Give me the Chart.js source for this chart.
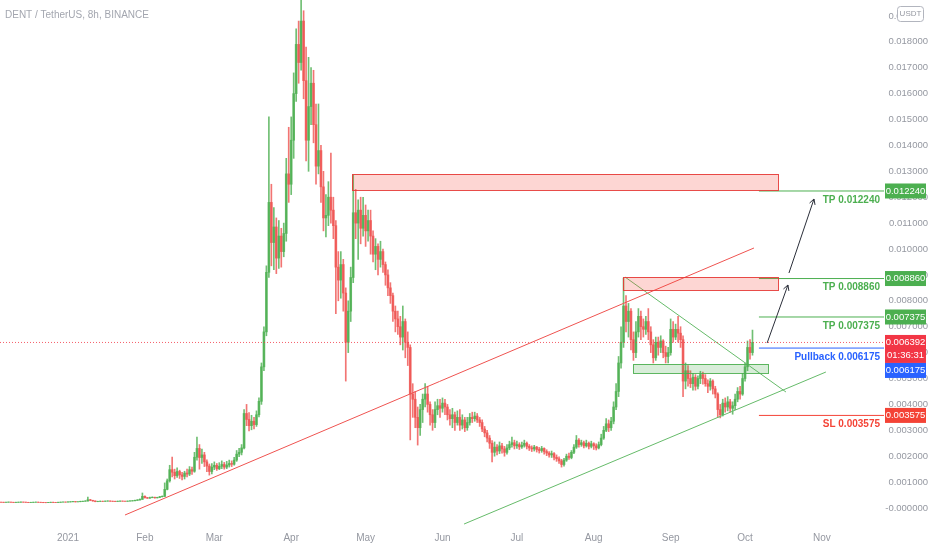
<!DOCTYPE html>
<html><head><meta charset="utf-8">
<script src="https://cdn.jsdelivr.net/npm/chart.js@4.4.0/dist/chart.umd.min.js"></script>
<style>html,body{margin:0;padding:0;background:#fff}#wrap{width:932px;height:550px}</style>
</head><body><div id="wrap"><canvas id="c" width="932" height="550"></canvas></div>
<script>
// ---- data (days counted from 1 Jan 2021; one candle per day) ----
const startDay = -27;
const firstOpen = 0.000226;
const closes = [
0.000222,0.000218,0.000224,0.000229,0.000221,0.000216,0.000219,0.000225,0.000230,0.000226,0.000219,0.000214,0.000217,0.000223,0.000227,0.000221,0.000218,0.000212,0.000209,0.000215,0.000221,0.000218,0.000214,0.000219,0.000226,0.000231,0.000228,
0.000235,0.000242,0.000251,0.000238,0.000244,0.000256,0.000262,0.000271,0.000318,0.000296,0.000272,0.000248,0.000255,0.000262,0.000258,0.000266,0.000271,0.000263,0.000259,0.000254,0.000262,0.000268,0.000264,0.000259,0.000266,0.000273,0.000281,
0.000295,0.000312,0.000334,0.000452,0.000398,0.000381,0.000402,0.000415,0.000392,0.000408,0.000437,0.000452,0.000721,
0.00105,0.00148,0.00138,0.00125,0.00141,0.00128,0.00122,0.00135,0.00131,0.00148,
0.00142,0.00196,0.00230,0.00195,0.00205,0.00178,0.00162,0.00141,0.00158,0.00165,
0.00152,0.00161,0.00168,0.00158,0.00166,0.00172,0.00169,0.00185,0.00208,0.00215,
0.00232,0.00365,0.00342,0.00318,0.00335,0.00322,0.00360,0.00412,0.00545,0.00680,
0.00910,0.01180,0.01025,0.01085,0.00965,0.01050,0.00990,0.01060,0.01290,0.01250,
0.01420,0.01600,0.01790,0.01720,0.01880,0.01650,0.01420,0.01550,0.01640,0.01480,
0.01320,0.01380,0.01240,0.01120,0.01130,0.01200,0.01150,0.01090,0.00930,0.00880,
0.00940,0.00830,0.00640,0.00760,0.00890,0.01140,0.01100,0.01150,0.01080,0.01130,
0.01070,0.01110,0.01050,0.00980,0.01010,0.00960,0.00990,0.00940,0.00900,0.00850,
0.00820,0.00760,0.00730,0.00700,0.00660,0.00720,0.00640,0.00620,0.00440,0.00420,
0.00350,0.00310,0.00380,0.00420,0.00440,0.00400,0.00360,0.00330,0.00380,0.00395,
0.00385,0.00405,0.00390,0.00360,0.00345,0.00360,0.00330,0.00350,0.00320,0.00340,
0.00310,0.00330,0.00350,0.00345,0.00355,0.00340,0.00330,0.00305,0.00290,0.00270,
0.00250,0.00215,0.00235,0.00220,0.00240,0.00228,0.00215,0.00232,0.00245,0.00252,
0.00240,0.00245,0.00236,0.00242,0.00250,0.00238,0.00232,0.00228,0.00235,0.00226,
0.00222,0.00230,0.00218,0.00212,0.00205,0.00210,0.00196,0.00190,0.00182,0.00168,
0.00185,0.00200,0.00195,0.00215,0.00235,0.00262,0.00245,0.00252,0.00240,0.00250,
0.00238,0.00248,0.00240,0.00232,0.00245,0.00270,0.00300,0.00325,0.00310,0.00335,
0.00390,0.00450,0.00560,0.00640,0.00780,0.00720,0.00760,0.00650,0.00600,0.00680,
0.00740,0.00700,0.00690,0.00720,0.00680,0.00630,0.00580,0.00640,0.00620,0.00645,
0.00600,0.00585,0.00600,0.00690,0.00660,0.00690,0.00675,0.00650,0.00490,0.00530,
0.00500,0.00480,0.00505,0.00470,0.00500,0.00515,0.00500,0.00480,0.00470,0.00490,
0.00460,0.00440,0.00380,0.00360,0.00405,0.00390,0.00410,0.00385,0.00395,0.00420,
0.00450,0.00440,0.00500,0.00545,0.00620,0.00600,0.006392];
const highs = [
0.000231,0.000228,0.000230,0.000236,0.000232,0.000225,0.000226,0.000233,0.000238,0.000234,0.000229,0.000222,0.000224,0.000230,0.000235,0.000230,0.000226,0.000221,0.000216,0.000222,0.000229,0.000227,0.000221,0.000226,0.000234,0.000240,0.000237,
0.000244,0.000251,0.000262,0.000255,0.000252,0.000265,0.000272,0.000285,0.000420,0.000335,0.000301,0.000278,0.000264,0.000273,0.000269,0.000275,0.000282,0.000276,0.000270,0.000264,0.000271,0.000278,0.000274,0.000268,0.000275,0.000284,0.000292,
0.000305,0.000325,0.000352,0.000580,0.000470,0.000412,0.000421,0.000432,0.000420,0.000418,0.000448,0.000470,0.000970,
0.00112,0.00165,0.00197,0.00150,0.00155,0.00146,0.00138,0.00142,0.00150,0.00160,
0.00158,0.00215,0.00274,0.00245,0.00228,0.00215,0.00186,0.00170,0.00172,0.00178,
0.00172,0.00175,0.00182,0.00176,0.00180,0.00185,0.00182,0.00196,0.00222,0.00230,
0.00245,0.00380,0.00400,0.00368,0.00358,0.00350,0.00375,0.00425,0.00560,0.00700,
0.00935,0.01510,0.01250,0.01160,0.01120,0.01110,0.01080,0.01100,0.01350,0.01470,
0.01510,0.01680,0.01850,0.01880,0.01990,0.01920,0.01780,0.01740,0.01700,0.01690,
0.01560,0.01560,0.01400,0.01300,0.01210,0.01260,0.01370,0.01200,0.01110,0.00990,
0.00990,0.00960,0.00850,0.00800,0.00930,0.01286,0.01230,0.01190,0.01200,0.01200,
0.01170,0.01150,0.01150,0.01070,0.01040,0.01020,0.01030,0.01000,0.00950,0.00920,
0.00870,0.00830,0.00780,0.00760,0.00740,0.00780,0.00730,0.00680,0.00630,0.00480,
0.00450,0.00390,0.00400,0.00440,0.00480,0.00470,0.00410,0.00380,0.00410,0.00420,
0.00420,0.00425,0.00420,0.00400,0.00380,0.00385,0.00370,0.00375,0.00380,0.00360,
0.00350,0.00350,0.00365,0.00370,0.00370,0.00365,0.00350,0.00340,0.00315,0.00300,
0.00280,0.00260,0.00255,0.00245,0.00255,0.00250,0.00238,0.00245,0.00258,0.00274,
0.00262,0.00258,0.00252,0.00255,0.00262,0.00255,0.00245,0.00240,0.00242,0.00238,
0.00234,0.00238,0.00232,0.00225,0.00218,0.00220,0.00214,0.00205,0.00198,0.00188,
0.00192,0.00208,0.00212,0.00222,0.00245,0.00280,0.00268,0.00262,0.00258,0.00262,
0.00255,0.00258,0.00252,0.00248,0.00255,0.00285,0.00315,0.00345,0.00340,0.00350,
0.00410,0.00480,0.00585,0.00700,0.00888,0.00820,0.00790,0.00770,0.00680,0.00720,
0.00770,0.00760,0.00730,0.00740,0.00770,0.00700,0.00650,0.00660,0.00660,0.00665,
0.00650,0.00625,0.00620,0.00730,0.00720,0.00710,0.00740,0.00700,0.00665,0.00560,
0.00550,0.00530,0.00520,0.00515,0.00510,0.00528,0.00525,0.00515,0.00495,0.00500,
0.00495,0.00470,0.00445,0.00400,0.00420,0.00425,0.00430,0.00420,0.00410,0.00440,
0.00465,0.00470,0.00520,0.00560,0.00645,0.00650,0.00687];
const lows = [
0.000214,0.000210,0.000213,0.000219,0.000212,0.000208,0.000210,0.000215,0.000220,0.000218,0.000211,0.000206,0.000208,0.000212,0.000218,0.000213,0.000210,0.000204,0.000201,0.000205,0.000211,0.000210,0.000206,0.000209,0.000214,0.000222,0.000219,
0.000224,0.000228,0.000236,0.000229,0.000232,0.000238,0.000249,0.000256,0.000265,0.000281,0.000262,0.000240,0.000242,0.000249,0.000247,0.000253,0.000260,0.000255,0.000250,0.000245,0.000250,0.000256,0.000255,0.000250,0.000254,0.000262,0.000268,
0.000276,0.000290,0.000305,0.000330,0.000380,0.000365,0.000374,0.000395,0.000381,0.000386,0.000400,0.000425,0.000440,
0.00070,0.00100,0.00120,0.00112,0.00118,0.00114,0.00108,0.00112,0.00120,0.00125,
0.00130,0.00138,0.00185,0.00150,0.00172,0.00160,0.00140,0.00127,0.00132,0.00148,
0.00145,0.00148,0.00152,0.00150,0.00152,0.00158,0.00160,0.00165,0.00180,0.00198,
0.00205,0.00228,0.00318,0.00298,0.00302,0.00305,0.00315,0.00352,0.00400,0.00530,
0.00665,0.00890,0.00935,0.00920,0.00905,0.00925,0.00930,0.00970,0.01030,0.01180,
0.01210,0.01350,0.01570,0.01640,0.01690,0.01580,0.01340,0.01300,0.01480,0.01410,
0.01250,0.01290,0.01180,0.01070,0.01047,0.01090,0.01100,0.01040,0.00750,0.00800,
0.00810,0.00760,0.00490,0.00600,0.00720,0.00870,0.01040,0.00960,0.01020,0.01050,
0.01010,0.01030,0.00980,0.00950,0.00920,0.00900,0.00930,0.00910,0.00860,0.00820,
0.00790,0.00720,0.00680,0.00670,0.00630,0.00610,0.00580,0.00550,0.00263,0.00350,
0.00310,0.00243,0.00280,0.00330,0.00390,0.00370,0.00320,0.00300,0.00310,0.00360,
0.00350,0.00370,0.00360,0.00340,0.00320,0.00310,0.00300,0.00320,0.00300,0.00305,
0.00295,0.00300,0.00320,0.00330,0.00335,0.00330,0.00315,0.00295,0.00275,0.00255,
0.00230,0.00178,0.00200,0.00205,0.00210,0.00212,0.00200,0.00208,0.00225,0.00235,
0.00228,0.00230,0.00226,0.00230,0.00235,0.00228,0.00222,0.00218,0.00220,0.00216,
0.00212,0.00215,0.00208,0.00202,0.00196,0.00195,0.00186,0.00180,0.00172,0.00158,
0.00162,0.00180,0.00188,0.00190,0.00210,0.00230,0.00235,0.00238,0.00232,0.00235,
0.00228,0.00232,0.00226,0.00224,0.00228,0.00240,0.00265,0.00295,0.00295,0.00300,
0.00325,0.00380,0.00430,0.00540,0.00620,0.00680,0.00660,0.00610,0.00570,0.00580,
0.00660,0.00650,0.00660,0.00670,0.00650,0.00600,0.00560,0.00570,0.00590,0.00600,
0.00580,0.00560,0.00560,0.00590,0.00640,0.00650,0.00640,0.00620,0.00430,0.00460,
0.00470,0.00465,0.00455,0.00455,0.00460,0.00480,0.00478,0.00470,0.00445,0.00455,
0.00440,0.00425,0.00350,0.00348,0.00355,0.00370,0.00375,0.00370,0.00362,0.00380,
0.00410,0.00420,0.00435,0.00490,0.00530,0.00575,0.00590];

const monthTicks = [0,31,59,90,120,151,181,212,243,273,304];
const monthLabels = ['2021','Feb','Mar','Apr','May','Jun','Jul','Aug','Sep','Oct','Nov'];
const levelValues = [0.012240, 0.008860, 0.007375, 0.006175, 0.003575];
const levelNames = ['TP 0.012240','TP 0.008860','TP 0.007375','Pullback 0.006175','SL 0.003575'];
const lastPrice = 0.006392;
const countdown = '01:36:31';
const title = 'DENT / TetherUS, 8h, BINANCE';
// drawing annotations in data units [day, price]
const redTrend = [[22.98,-0.00027],[276.6,0.010039]];
const greenTrend = [[159.7,-0.000618],[305.6,0.005251]];
const descTrend = [[224.6,0.008919],[289.5,0.004479]];
const redBoxes = [[114.6,0.012896,286.3,0.012278],[223.8,0.008919,286.3,0.008417]];
const greenBoxes = [[227.8,0.00556,282.3,0.005212]];
const arrows = [[281.9,0.00637,290.3,0.00861],[290.7,0.009073,300.8,0.011931]];
const levelStartDay = 278.6;

// ---- build ----
const X_MIN = -27.42, X_MAX = 329.03, Y_MIN = -0.000656, Y_MAX = 0.019614;
const days = closes.map((_, i) => startDay + i);
const opens = closes.map((_, i) => i === 0 ? firstOpen : closes[i - 1]);
const UP = 'rgba(76,175,80,0.8)', DN = 'rgba(239,83,80,0.8)';
const cols = closes.map((c, i) => c >= opens[i] ? UP : DN);
const wicks = days.map((d, i) => ({x: d, y: [lows[i], highs[i]]}));
const bodies = days.map((d, i) => ({x: d, y: [Math.min(opens[i], closes[i]), Math.max(opens[i], closes[i])]}));
const GREEN = '#4caf50', BLUE = '#2962ff', RED = '#f44336';
const levelColors = [GREEN, GREEN, GREEN, BLUE, RED];
const FONT = '"Liberation Sans", Arial, sans-serif';

function seg(p, color, extra) {
  return Object.assign({type: 'line', data: p.map(q => ({x: q[0], y: q[1]})), borderColor: color, borderWidth: 1,
    pointRadius: 0, fill: false, tension: 0, order: 0}, extra || {});
}
const datasets = [
  {type: 'bar', data: wicks, backgroundColor: cols, barThickness: 1, grouped: false, order: 2},
  {type: 'bar', data: bodies, backgroundColor: cols, barThickness: 2, grouped: false, order: 1},
  seg([[X_MIN, lastPrice], [X_MAX, lastPrice]], 'rgba(242,54,69,0.8)', {borderDash: [1, 2]}),
  seg(redTrend, '#ef5350'),
  seg(greenTrend, '#66bb6a'),
  seg(descTrend, '#66bb6a')
];
levelValues.forEach((v, i) => datasets.push(seg([[levelStartDay, v], [X_MAX, v]], levelColors[i])));

function rr(ctx, x, y, w, h, r) {
  ctx.beginPath(); ctx.moveTo(x + r, y); ctx.lineTo(x + w - r, y); ctx.quadraticCurveTo(x + w, y, x + w, y + r);
  ctx.lineTo(x + w, y + h - r); ctx.quadraticCurveTo(x + w, y + h, x + w - r, y + h); ctx.lineTo(x + r, y + h);
  ctx.quadraticCurveTo(x, y + h, x, y + h - r); ctx.lineTo(x, y + r); ctx.quadraticCurveTo(x, y, x + r, y); ctx.closePath();
}

const overlay = {
  id: 'overlay',
  afterDatasetsDraw(chart) {
    const {ctx, scales: {x, y}} = chart;
    const X = v => x.getPixelForValue(v), Y = v => y.getPixelForValue(v);
    ctx.save();
    redBoxes.forEach(b => {
      const x0 = X(b[0]), y0 = Y(b[1]), x1 = X(b[2]), y1 = Y(b[3]);
      ctx.fillStyle = 'rgba(244,67,54,0.22)'; ctx.fillRect(x0, y0, x1 - x0, y1 - y0);
      ctx.strokeStyle = 'rgba(229,57,53,0.9)'; ctx.lineWidth = 1; ctx.strokeRect(Math.round(x0) + 0.5, Math.round(y0) + 0.5, Math.round(x1 - x0), Math.round(y1 - y0));
    });
    greenBoxes.forEach(b => {
      const x0 = X(b[0]), y0 = Y(b[1]), x1 = X(b[2]), y1 = Y(b[3]);
      ctx.fillStyle = 'rgba(76,175,80,0.22)'; ctx.fillRect(x0, y0, x1 - x0, y1 - y0);
      ctx.strokeStyle = 'rgba(76,175,80,0.9)'; ctx.lineWidth = 1; ctx.strokeRect(Math.round(x0) + 0.5, Math.round(y0) + 0.5, Math.round(x1 - x0), Math.round(y1 - y0));
    });
    // arrows
    ctx.strokeStyle = '#2a2e39'; ctx.lineWidth = 1;
    arrows.forEach(a => {
      const x0 = X(a[0]), y0 = Y(a[1]), x1 = X(a[2]), y1 = Y(a[3]);
      ctx.beginPath(); ctx.moveTo(x0, y0); ctx.lineTo(x1, y1); ctx.stroke();
      const ang = Math.atan2(y1 - y0, x1 - x0), L = 6;
      ctx.beginPath();
      ctx.moveTo(x1 - L * Math.cos(ang - 0.5), y1 - L * Math.sin(ang - 0.5));
      ctx.lineTo(x1, y1);
      ctx.lineTo(x1 - L * Math.cos(ang + 0.5), y1 - L * Math.sin(ang + 0.5));
      ctx.stroke();
    });
    ctx.restore();
  },
  afterDraw(chart) {
    const {ctx, scales: {y}, chartArea: ca} = chart;
    const Y = v => y.getPixelForValue(v);
    ctx.save();
    // level texts
    ctx.font = 'bold 10px ' + FONT; ctx.textAlign = 'right'; ctx.textBaseline = 'middle';
    levelValues.forEach((v, i) => { ctx.fillStyle = levelColors[i]; ctx.fillText(levelNames[i], ca.right - 4, Y(v) + 9); });
    // badges
    const bx = ca.right + 1, bw = 41, bh = 15;
    ctx.font = '9.5px ' + FONT; ctx.textAlign = 'center';
    const badge = (top, h, color, lines) => {
      ctx.fillStyle = color; ctx.fillRect(bx, top, bw, h);
      ctx.fillStyle = '#fff';
      lines.forEach((t, k) => ctx.fillText(t, bx + bw / 2, top + 7.5 + k * 13));
    };
    [0, 1, 2].forEach(i => badge(Y(levelValues[i]) - bh / 2, bh, GREEN, [levelValues[i].toFixed(6)]));
    const pTop = Y(lastPrice) - bh / 2;
    badge(pTop, 28, '#f23645', [lastPrice.toFixed(6), countdown]);
    badge(pTop + 28, bh, BLUE, [levelValues[3].toFixed(6)]);
    badge(Y(levelValues[4]) - bh / 2, bh, RED, [levelValues[4].toFixed(6)]);
    // title
    ctx.textAlign = 'left'; ctx.fillStyle = '#a3a6af'; ctx.font = '10px ' + FONT;
    ctx.fillText(title, 5, 15);
    // USDT tag
    ctx.fillStyle = '#fff'; ctx.fillRect(897, 5, 35, 20);
    rr(ctx, 897.5, 6.5, 26, 15, 3); ctx.fill(); ctx.strokeStyle = '#b2b5be'; ctx.lineWidth = 1; ctx.stroke();
    ctx.fillStyle = '#9598a1'; ctx.font = '8px ' + FONT; ctx.textAlign = 'center'; ctx.fillText('USDT', 910.5, 14);
    ctx.restore();
  }
};

new Chart(document.getElementById('c'), {
  type: 'bar',
  data: {datasets},
  options: {
    responsive: false, animation: false, devicePixelRatio: 1,
    layout: {padding: {left: 0, top: 0, right: 4, bottom: 0}},
    plugins: {legend: {display: false}, tooltip: {enabled: false}},
    scales: {
      x: {type: 'linear', min: X_MIN, max: X_MAX, offset: false,
        grid: {display: false, drawTicks: false}, border: {display: false},
        afterBuildTicks: s => { s.ticks = monthTicks.map(v => ({value: v})); },
        afterFit: s => { s.height = 25; s.paddingLeft = 0; s.paddingRight = 0; },
        ticks: {autoSkip: false, maxRotation: 0, padding: 7, color: '#9598a1', font: {size: 10, family: FONT},
          callback: v => { const i = monthTicks.indexOf(v); return i >= 0 ? monthLabels[i] : ''; }}
      },
      y: {type: 'linear', position: 'right', min: Y_MIN, max: Y_MAX,
        grid: {display: false, drawTicks: false}, border: {display: false},
        afterFit: s => { s.width = 44; s.paddingTop = 0; s.paddingBottom = 0; },
        ticks: {stepSize: 0.001, includeBounds: false, crossAlign: 'far', padding: 0, color: '#9598a1',
          font: {size: 9.5, family: FONT},
          callback: v => Math.abs(v) < 1e-9 ? '-0.000000' : Number(v).toFixed(6)}
      }
    }
  },
  plugins: [overlay]
});
</script>
</body></html>
